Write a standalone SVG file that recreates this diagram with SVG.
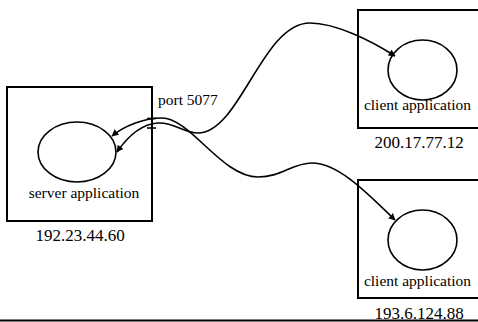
<svg xmlns="http://www.w3.org/2000/svg" width="478" height="322" viewBox="0 0 478 322">
<style>
.box{fill:none;stroke:#000;stroke-width:2}
.app{fill:none;stroke:#000;stroke-width:1.6}
text{font-family:'Liberation Serif','Times New Roman',serif;fill:#000;text-anchor:middle}
.lbl{font-size:15.5px}
.ip{font-size:17px}
.conn{fill:none;stroke:#000;stroke-width:1.6}
</style>
<defs>
<marker id="arr" viewBox="0 0 10 10" refX="9" refY="5" markerWidth="7" markerHeight="7" markerUnits="userSpaceOnUse" orient="auto-start-reverse">
<path d="M0,0 L10,5 L0,10 z" fill="#000"/>
</marker>
</defs>
<rect x="0" y="0" width="478" height="322" fill="#fff"/>
<g id="server">
<rect class="box" x="7" y="87" width="145" height="134"/>
<ellipse class="app" cx="77" cy="152" rx="39" ry="30"/>
<text class="lbl" x="84" y="197.5">server application</text>
<text class="ip" x="80" y="241">192.23.44.60</text>
</g>
<g id="port">
<line x1="147" y1="118.5" x2="156" y2="118.5" stroke="#000" stroke-width="1.6"/>
<line x1="147" y1="128" x2="156" y2="128" stroke="#000" stroke-width="1.6"/>
<text class="lbl" x="158" y="105" style="text-anchor:start">port 5077</text>
</g>
<g id="client1">
<rect class="box" x="358" y="10" width="140" height="118"/>
<ellipse class="app" cx="422.5" cy="70" rx="34.5" ry="30"/>
<text class="lbl" x="417.5" y="110">client application</text>
<text class="ip" x="419" y="148">200.17.77.12</text>
</g>
<g id="client2">
<rect class="box" x="358" y="180" width="140" height="118"/>
<ellipse class="app" cx="422.5" cy="240" rx="34.5" ry="30"/>
<text class="lbl" x="417.5" y="286">client application</text>
<text class="ip" x="419" y="319">193.6.124.88</text>
</g>
<g id="connectors">
<path class="conn" marker-start="url(#arr)" marker-end="url(#arr)" d="M117,152 C128,136 142,124 158,123 C174,122 184,133 198,133 C240,133 262,23 310,23 C335,23 370,40 395,56"/>
<path class="conn" marker-start="url(#arr)" marker-end="url(#arr)" d="M112,136 C124,126 144,118 162,118 C190,118 222,177 258,177 C282,177 292,163 312,163 C340,163 372,198 395,220"/>
</g>
<line x1="0" y1="320.5" x2="478" y2="320.5" stroke="#000" stroke-width="2"/>
</svg>
